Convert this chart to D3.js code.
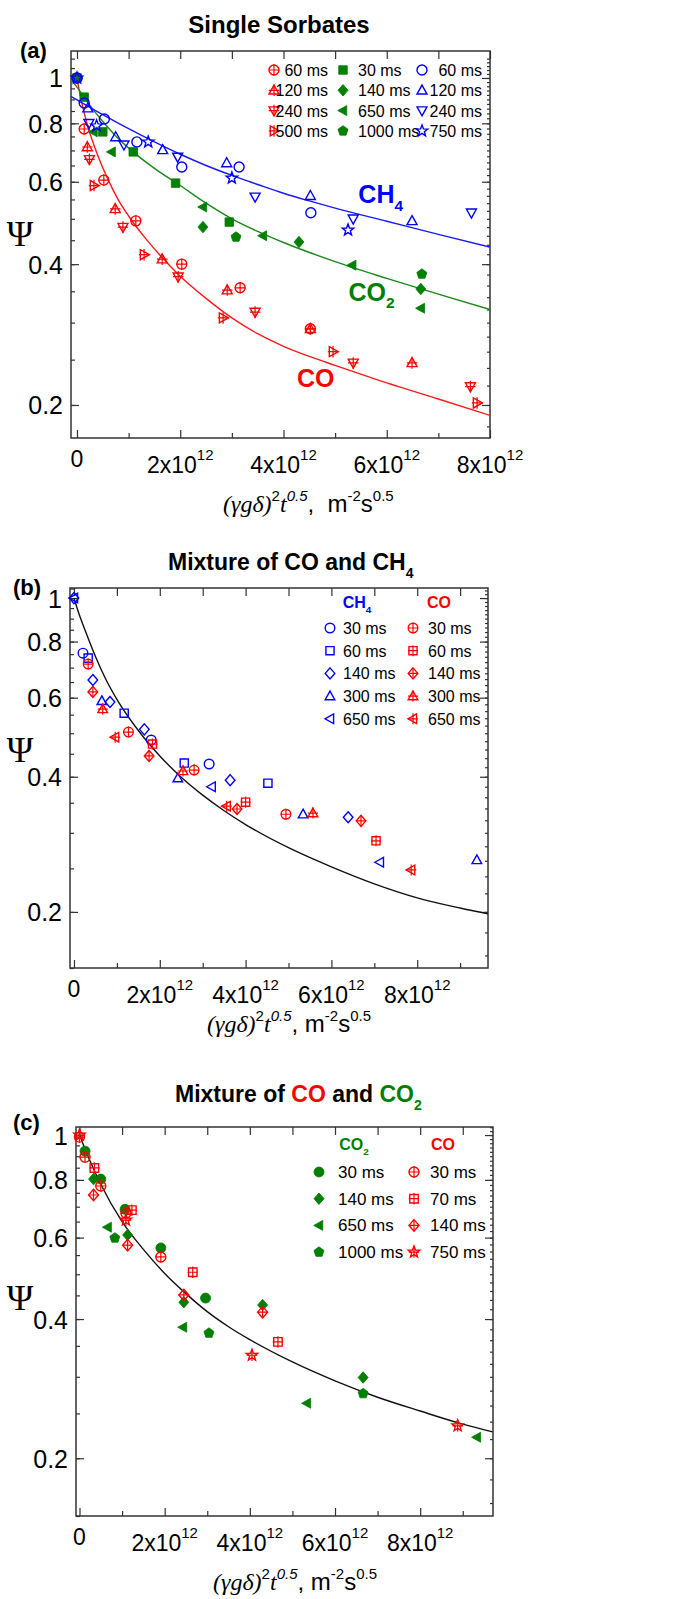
<!DOCTYPE html>
<html>
<head>
<meta charset="utf-8">
<script src="https://cdnjs.cloudflare.com/ajax/libs/d3/7.8.5/d3.min.js"></script>
<style>
    body { margin: 0; background: #fff; }
    svg text { font-family: "Liberation Sans Narrow", "Arial Narrow", "Liberation Sans", Arial, sans-serif; fill: #000; }
</style>
</head>
<body>
<svg id="chart" width="676" height="1599"></svg>
<script>
// x values are in units of 1e12 m^-2 s^0.5, y values are Psi

// ---- panel (a) single sorbates ----
const aCO60X = [0, 0.14, 0.52, 1.14, 2.03, 3.16, 4.52];
const aCO60Y = [1.0, 0.778, 0.605, 0.495, 0.40, 0.356, 0.291];
const aCO120X = [0.2, 0.74, 1.65, 2.91, 4.52, 6.49];
const aCO120Y = [0.712, 0.525, 0.41, 0.352, 0.291, 0.246];
const aCO240X = [0.24, 0.89, 1.96, 3.45, 5.35, 7.62];
const aCO240Y = [0.67, 0.48, 0.376, 0.316, 0.246, 0.219];
const aCO500X = [0.33, 1.30, 2.83, 4.96, 7.75];
const aCO500Y = [0.589, 0.419, 0.307, 0.26, 0.202];

const aCO2_30X = [0, 0.14, 0.5, 1.09, 1.91, 2.95];
const aCO2_30Y = [1.0, 0.91, 0.767, 0.695, 0.596, 0.492];
const aCO2_140X = [2.44, 4.3, 6.66];
const aCO2_140Y = [0.48, 0.446, 0.354];
const aCO2_650X = [0.32, 0.67, 2.44, 3.6, 5.33, 6.66];
const aCO2_650Y = [0.767, 0.695, 0.53, 0.46, 0.398, 0.322];
const aCO2_1000X = [3.08, 6.68];
const aCO2_1000Y = [0.457, 0.381];

const aCH4_60X = [0, 0.14, 0.53, 1.16, 2.03, 3.14, 4.53];
const aCH4_60Y = [1.0, 0.884, 0.817, 0.73, 0.645, 0.645, 0.515];
const aCH4_120X = [0.21, 0.75, 1.66, 2.9, 4.52, 6.49];
const aCH4_120Y = [0.862, 0.748, 0.702, 0.658, 0.56, 0.495];
const aCH4_240X = [0.23, 0.91, 1.95, 3.45, 5.35, 7.64];
const aCH4_240Y = [0.80, 0.72, 0.678, 0.557, 0.50, 0.515];
const aCH4_750X = [0, 0.38, 1.38, 3.0, 5.25];
const aCH4_750Y = [1.0, 0.79, 0.73, 0.611, 0.473];

// fitted curves
const aFitCOX = [0, 0.05, 0.1, 0.2, 0.3, 0.4, 0.6, 0.8, 1.0, 1.3, 1.6, 2.0, 2.5, 3.0, 3.5, 4.0, 4.5, 5.0, 6.0, 7.0, 8.0];
const aFitCOY = [1.0, 0.932, 0.878, 0.795, 0.733, 0.684, 0.607, 0.549, 0.507, 0.458, 0.419, 0.377, 0.338, 0.307, 0.284, 0.267, 0.254, 0.243, 0.223, 0.206, 0.190];
const aFitCO2X = [-0.12, 0, 0.25, 0.5, 0.75, 1.0, 1.5, 2.0, 2.5, 3.0, 3.5, 4.0, 5.0, 6.0, 7.0, 8.0];
const aFitCO2Y = [0.995, 0.956, 0.874, 0.807, 0.752, 0.708, 0.641, 0.589, 0.54, 0.50, 0.47, 0.445, 0.405, 0.373, 0.345, 0.32];
const aFitCH4X = [-0.12, 0, 0.5, 1.0, 1.5, 2.0, 2.5, 3.0, 3.5, 4.0, 4.5, 5.0, 6.0, 7.0, 8.0];
const aFitCH4Y = [0.914, 0.898, 0.835, 0.779, 0.730, 0.687, 0.650, 0.619, 0.592, 0.567, 0.546, 0.527, 0.494, 0.463, 0.435];

// ---- panel (b) mixture CO + CH4 ----
const bCH4_30X = [0.21, 1.8, 3.15];
const bCH4_30Y = [0.754, 0.483, 0.427];
const bCH4_60X = [0.33, 1.17, 2.57, 4.52];
const bCH4_60Y = [0.735, 0.554, 0.429, 0.387];
const bCH4_140X = [0, 0.44, 0.84, 1.64, 3.64, 6.39];
const bCH4_140Y = [1.0, 0.657, 0.587, 0.51, 0.393, 0.325];
const bCH4_300X = [0.65, 2.42, 5.34, 9.39];
const bCH4_300Y = [0.59, 0.397, 0.33, 0.261];
const bCH4_650X = [0, 3.21, 7.13];
const bCH4_650Y = [1.0, 0.38, 0.258];

const bCO30X = [0.33, 1.27, 2.8, 4.94];
const bCO30Y = [0.713, 0.503, 0.414, 0.33];
const bCO60X = [1.83, 4.0, 7.04];
const bCO60Y = [0.473, 0.351, 0.288];
const bCO140X = [0.44, 1.75, 3.8, 6.69];
const bCO140Y = [0.618, 0.445, 0.339, 0.319];
const bCO300X = [0.67, 2.54, 5.57];
const bCO300Y = [0.566, 0.412, 0.332];
const bCO650X = [0.96, 3.56, 7.86];
const bCO650Y = [0.49, 0.344, 0.248];

const bFitX = [0, 0.1, 0.25, 0.5, 0.75, 1.0, 1.5, 2.0, 2.5, 3.0, 3.5, 4.0, 5.0, 6.0, 7.0, 8.0, 9.0, 9.65];
const bFitY = [1.0, 0.932, 0.852, 0.741, 0.657, 0.595, 0.507, 0.445, 0.399, 0.364, 0.336, 0.313, 0.278, 0.252, 0.231, 0.215, 0.204, 0.198];

// ---- panel (c) mixture CO + CO2 ----
const cCO2_30X = [0.13, 0.5, 1.07, 1.91, 2.96];
const cCO2_30Y = [0.923, 0.803, 0.691, 0.57, 0.444];
const cCO2_140X = [0.33, 1.13, 2.45, 4.3, 6.66];
const cCO2_140Y = [0.803, 0.608, 0.435, 0.429, 0.299];
const cCO2_650X = [0.66, 2.43, 5.34, 9.33];
const cCO2_650Y = [0.632, 0.384, 0.263, 0.222];
const cCO2_1000X = [0.83, 3.04, 6.66];
const cCO2_1000Y = [0.599, 0.373, 0.276];

const cCO30X = [0, 0.13, 0.5, 1.09, 1.91];
const cCO30Y = [0.99, 0.896, 0.776, 0.678, 0.545];
const cCO70X = [0.35, 1.23, 2.66, 4.66];
const cCO70Y = [0.849, 0.688, 0.505, 0.357];
const cCO140X = [0.33, 1.13, 2.45, 4.3];
const cCO140Y = [0.742, 0.578, 0.451, 0.414];
const cCO750X = [0, 1.09, 4.05, 8.88];
const cCO750Y = [1.0, 0.655, 0.334, 0.235];

const cFitX = [0, 0.25, 0.5, 1.0, 1.5, 2.0, 2.5, 3.0, 3.5, 4.0, 5.0, 6.0, 7.0, 8.0, 9.0, 9.7];
const cFitY = [1.0, 0.878, 0.783, 0.65, 0.566, 0.502, 0.454, 0.415, 0.385, 0.361, 0.323, 0.294, 0.271, 0.253, 0.237, 0.228];

// tick values
const xMajorTicks = [0, 2, 4, 6, 8];
const xMinorTicks = [1, 3, 5, 7, 9];
const yMajorTicks = [0.2, 0.4, 0.6, 0.8, 1];

const RED = '#ff0000', GREEN = '#007f00', BLUE = '#0000ff';

const svg = d3.select('#chart');

// marker outlines
function shapePath(shape, r) {
    const p = d3.path();
    const poly = function (pts) {
        p.moveTo(pts[0][0], pts[0][1]);
        pts.slice(1).forEach(function (q) { p.lineTo(q[0], q[1]); });
        p.closePath();
    };
    if (shape === 'circle') p.arc(0, 0, r, 0, 2 * Math.PI);
    else if (shape === 'square') { const s = r * 0.85; p.rect(-s, -s, 2 * s, 2 * s); }
    else if (shape === 'diamond') poly([[0, -r * 1.15], [r, 0], [0, r * 1.15], [-r, 0]]);
    else if (shape === 'up') poly([[0, -r * 1.05], [r, r * 0.75], [-r, r * 0.75]]);
    else if (shape === 'down') poly([[0, r * 1.05], [r, -r * 0.75], [-r, -r * 0.75]]);
    else if (shape === 'left') poly([[-r * 1.05, 0], [r * 0.75, -r], [r * 0.75, r]]);
    else if (shape === 'right') poly([[r * 1.05, 0], [-r * 0.75, -r], [-r * 0.75, r]]);
    else if (shape === 'pentagon') poly(d3.range(5).map(function (i) {
        const a = -Math.PI / 2 + i * 2 * Math.PI / 5;
        return [r * 1.05 * Math.cos(a), r * 1.05 * Math.sin(a)];
    }));
    else if (shape === 'star') poly(d3.range(10).map(function (i) {
        const a = -Math.PI / 2 + i * Math.PI / 5;
        const rr = i % 2 ? r * 0.5 : r * 1.2;
        return [rr * Math.cos(a), rr * Math.sin(a)];
    }));
    return p.toString();
}

function markerGroup(parent, s, r) {
    parent.append('path')
        .attr('d', shapePath(s.shape, r))
        .attr('fill', s.filled ? s.color : 'none')
        .attr('stroke', s.color)
        .attr('stroke-width', s.filled ? 0.8 : 1.4);
    if (s.plus) {
        parent.append('path')
            .attr('d', `M${-r * 1.05},0H${r * 1.05}M0,${-r * 1.15}V${r * 1.15}`)
            .attr('stroke', s.color)
            .attr('stroke-width', 1.2);
    }
}

function drawPanel(cfg) {
    const g = svg.append('g');
    const x = d3.scaleLinear().domain(cfg.xDomain).range([cfg.left, cfg.right]);
    const y = d3.scaleLog().domain(cfg.yDomain).range([cfg.bottom, cfg.top]);

    // minor y ticks, every 0.05 on the left and 0.02 on the right
    const yMinorL = d3.range(3, 23).map(function (i) { return i * 0.05; })
        .filter(function (v) { return v > cfg.yDomain[0] && v < cfg.yDomain[1]; });
    const yMinorR = d3.range(8, 56).map(function (i) { return i * 0.02; })
        .filter(function (v) { return v > cfg.yDomain[0] && v < cfg.yDomain[1]; });
    const xMaj = xMajorTicks.filter(function (v) { return v >= cfg.xDomain[0] && v <= cfg.xDomain[1] + 1e-6; });
    const xMin = xMinorTicks.filter(function (v) { return v <= cfg.xDomain[1]; });

    const axes = g.append('g').attr('class', 'axes');
    const addAxis = function (axis, tx, ty) {
        const a = axes.append('g').attr('transform', `translate(${tx},${ty})`).call(axis);
        a.select('.domain').remove();
        a.selectAll('line').attr('stroke', '#333').attr('stroke-width', 1.2);
        return a;
    };
    addAxis(d3.axisBottom(x).tickValues(xMaj).tickSize(-8).tickFormat(''), 0, cfg.bottom);
    addAxis(d3.axisBottom(x).tickValues(xMin).tickSize(-5).tickFormat(''), 0, cfg.bottom);
    addAxis(d3.axisTop(x).tickValues(xMaj).tickSize(-8).tickFormat(''), 0, cfg.top);
    addAxis(d3.axisTop(x).tickValues(xMin).tickSize(-8).tickFormat(''), 0, cfg.top);
    addAxis(d3.axisLeft(y).tickValues(yMinorL).tickSize(-4).tickFormat(''), cfg.left, 0);
    addAxis(d3.axisRight(y).tickValues(yMinorR).tickSize(-3).tickFormat(''), cfg.right, 0);
    addAxis(d3.axisRight(y).tickValues(yMajorTicks).tickSize(-8).tickFormat(''), cfg.right, 0);
    const yl = addAxis(d3.axisLeft(y).tickValues(yMajorTicks).tickSize(-8).tickPadding(8)
        .tickFormat(d3.format('~g')), cfg.left, 0);
    yl.selectAll('text').attr('font-size', 25).attr('dy', '0.36em')
        .style('font-family', '"Liberation Sans Narrow", "Arial Narrow", "Liberation Sans", Arial, sans-serif');

    // x tick labels with powers of ten
    xMaj.forEach(function (v) {
        if (v === 0) {
            g.append('text').attr('x', x(v)).attr('y', cfg.bottom + 29)
                .attr('text-anchor', 'middle').attr('font-size', 23).text('0');
        } else {
            const t = g.append('text').attr('x', x(v)).attr('y', cfg.bottom + 35)
                .attr('text-anchor', 'middle').attr('font-size', 23);
            t.append('tspan').text(v + 'x10');
            t.append('tspan').attr('font-size', 15).attr('dy', -13).text('12');
        }
    });

    // frame
    g.append('rect')
        .attr('x', cfg.left).attr('y', cfg.top)
        .attr('width', cfg.right - cfg.left).attr('height', cfg.bottom - cfg.top)
        .attr('fill', 'none').attr('stroke', '#333').attr('stroke-width', 1.5);

    // fitted curves, clipped to the frame
    const clipId = 'clip' + cfg.name;
    g.append('clipPath').attr('id', clipId).append('rect')
        .attr('x', cfg.left).attr('y', cfg.top)
        .attr('width', cfg.right - cfg.left).attr('height', cfg.bottom - cfg.top);
    const line = d3.line()
        .x(function (d) { return x(d[0]); })
        .y(function (d) { return y(d[1]); })
        .curve(d3.curveMonotoneX);
    cfg.curves.forEach(function (c) {
        g.append('path')
            .attr('clip-path', `url(#${clipId})`)
            .attr('d', line(d3.zip(c.xs, c.ys)))
            .attr('fill', 'none')
            .attr('stroke', c.color)
            .attr('stroke-width', 1.4);
    });

    // data points
    cfg.series.forEach(function (s) {
        g.append('g').selectAll('g')
            .data(d3.zip(s.xs, s.ys))
            .join('g')
            .attr('transform', function (d) { return `translate(${x(d[0])},${y(d[1])})`; })
            .each(function () { markerGroup(d3.select(this), s, cfg.r); });
    });

    // legend
    cfg.legend.forEach(function (col) {
        col.items.forEach(function (s, i) {
            const cy = col.y0 + i * col.dy;
            markerGroup(g.append('g').attr('transform', `translate(${col.mx},${cy})`), s, cfg.r);
            g.append('text')
                .attr('x', col.tx).attr('y', cy + 6)
                .attr('text-anchor', col.anchor)
                .attr('font-size', col.fs)
                .text(s.label);
        });
    });

    // axis titles
    g.append('text')
        .attr('x', 20).attr('y', cfg.psiY)
        .attr('text-anchor', 'middle')
        .attr('font-size', 36)
        .style('font-family', '"Liberation Serif", "Times New Roman", serif')
        .text('\u03A8');

    const xt = g.append('text').attr('x', cfg.xtX).attr('y', cfg.xtY).attr('font-size', 24)
        .style('white-space', 'pre');
    const serif = '"Liberation Serif", "Times New Roman", serif';
    xt.append('tspan').style('font-family', serif).attr('font-style', 'italic').text('(\u03B3g\u03B4)');
    xt.append('tspan').attr('font-size', 15).attr('dy', -11).text('2');
    xt.append('tspan').style('font-family', serif).attr('font-style', 'italic').attr('dy', 11).text('t');
    xt.append('tspan').attr('font-size', 15).attr('font-style', 'italic').attr('dy', -11).text('0.5');
    xt.append('tspan').attr('dy', 11).text(cfg.comma + 'm');
    xt.append('tspan').attr('font-size', 15).attr('dy', -11).text('-2');
    xt.append('tspan').attr('dy', 11).text('s');
    xt.append('tspan').attr('font-size', 15).attr('dy', -11).text('0.5');

    return {g: g, x: x, y: y};
}

function subText(g, x, y, size, color, main, sub, anchor) {
    const t = g.append('text').attr('x', x).attr('y', y).attr('font-size', size)
        .attr('font-weight', 'bold').attr('text-anchor', anchor || 'start');
    t.append('tspan').style('fill', color).text(main);
    if (sub) t.append('tspan').style('fill', color).attr('font-size', size * 0.62).attr('dy', size * 0.3).text(sub);
    return t;
}

// ---------------- panel (a) ----------------
const sA = {
    co60: {xs: aCO60X, ys: aCO60Y, shape: 'circle', color: RED, plus: true, label: '60 ms'},
    co120: {xs: aCO120X, ys: aCO120Y, shape: 'up', color: RED, plus: true, label: '120 ms'},
    co240: {xs: aCO240X, ys: aCO240Y, shape: 'down', color: RED, plus: true, label: '240 ms'},
    co500: {xs: aCO500X, ys: aCO500Y, shape: 'right', color: RED, plus: true, label: '500 ms'},
    co2_30: {xs: aCO2_30X, ys: aCO2_30Y, shape: 'square', color: GREEN, filled: true, label: '30 ms'},
    co2_140: {xs: aCO2_140X, ys: aCO2_140Y, shape: 'diamond', color: GREEN, filled: true, label: '140 ms'},
    co2_650: {xs: aCO2_650X, ys: aCO2_650Y, shape: 'left', color: GREEN, filled: true, label: '650 ms'},
    co2_1000: {xs: aCO2_1000X, ys: aCO2_1000Y, shape: 'pentagon', color: GREEN, filled: true, label: '1000 ms'},
    ch4_60: {xs: aCH4_60X, ys: aCH4_60Y, shape: 'circle', color: BLUE, label: '60 ms'},
    ch4_120: {xs: aCH4_120X, ys: aCH4_120Y, shape: 'up', color: BLUE, label: '120 ms'},
    ch4_240: {xs: aCH4_240X, ys: aCH4_240Y, shape: 'down', color: BLUE, label: '240 ms'},
    ch4_750: {xs: aCH4_750X, ys: aCH4_750Y, shape: 'star', color: BLUE, label: '750 ms'}
};
const pa = drawPanel({
    name: 'a', left: 71, right: 490, top: 51, bottom: 438,
    xDomain: [-0.116, 8], yDomain: [0.17, 1.142], r: 5,
    series: Object.values(sA),
    curves: [
        {xs: aFitCOX, ys: aFitCOY, color: '#ff1a1a'},
        {xs: aFitCO2X, ys: aFitCO2Y, color: '#1a8a1a'},
        {xs: aFitCH4X, ys: aFitCH4Y, color: '#1a1aff'}
    ],
    legend: [
        {mx: 274, tx: 328, anchor: 'end', y0: 70, dy: 20.3, fs: 16, items: [sA.co60, sA.co120, sA.co240, sA.co500]},
        {mx: 343, tx: 358, anchor: 'start', y0: 70, dy: 20.3, fs: 16, items: [sA.co2_30, sA.co2_140, sA.co2_650, sA.co2_1000]},
        {mx: 422, tx: 482, anchor: 'end', y0: 70, dy: 20.3, fs: 16, items: [sA.ch4_60, sA.ch4_120, sA.ch4_240, sA.ch4_750]}
    ],
    psiY: 246, xtX: 223, xtY: 512, comma: ',\u00A0\u00A0'
});
pa.g.append('text').attr('x', 279).attr('y', 33).attr('text-anchor', 'middle')
    .attr('font-size', 24).attr('font-weight', 'bold').text('Single Sorbates');
pa.g.append('text').attr('x', 20).attr('y', 58).attr('font-size', 22).attr('font-weight', 'bold').text('(a)');
subText(pa.g, pa.x(5.45), pa.y(0.54), 25, BLUE, 'CH', '4');
subText(pa.g, pa.x(5.26), pa.y(0.334), 25, GREEN, 'CO', '2');
subText(pa.g, pa.x(4.26), pa.y(0.218), 25, RED, 'CO');

// ---------------- panel (b) ----------------
const sB = {
    ch4_30: {xs: bCH4_30X, ys: bCH4_30Y, shape: 'circle', color: BLUE, label: '30 ms'},
    ch4_60: {xs: bCH4_60X, ys: bCH4_60Y, shape: 'square', color: BLUE, label: '60 ms'},
    ch4_140: {xs: bCH4_140X, ys: bCH4_140Y, shape: 'diamond', color: BLUE, label: '140 ms'},
    ch4_300: {xs: bCH4_300X, ys: bCH4_300Y, shape: 'up', color: BLUE, label: '300 ms'},
    ch4_650: {xs: bCH4_650X, ys: bCH4_650Y, shape: 'left', color: BLUE, label: '650 ms'},
    co30: {xs: bCO30X, ys: bCO30Y, shape: 'circle', color: RED, plus: true, label: '30 ms'},
    co60: {xs: bCO60X, ys: bCO60Y, shape: 'square', color: RED, plus: true, label: '60 ms'},
    co140: {xs: bCO140X, ys: bCO140Y, shape: 'diamond', color: RED, plus: true, label: '140 ms'},
    co300: {xs: bCO300X, ys: bCO300Y, shape: 'up', color: RED, plus: true, label: '300 ms'},
    co650: {xs: bCO650X, ys: bCO650Y, shape: 'left', color: RED, plus: true, label: '650 ms'}
};
const pb = drawPanel({
    name: 'b', left: 70, right: 488, top: 588, bottom: 968,
    xDomain: [-0.093, 9.65], yDomain: [0.15, 1.053], r: 4.8,
    series: Object.values(sB),
    curves: [{xs: bFitX, ys: bFitY, color: '#111'}],
    legend: [
        {mx: 330, tx: 343, anchor: 'start', y0: 628, dy: 22.7, fs: 16, items: [sB.ch4_30, sB.ch4_60, sB.ch4_140, sB.ch4_300, sB.ch4_650]},
        {mx: 413, tx: 428, anchor: 'start', y0: 628, dy: 22.7, fs: 16, items: [sB.co30, sB.co60, sB.co140, sB.co300, sB.co650]}
    ],
    psiY: 762, xtX: 207, xtY: 1032, comma: ', '
});
const tb = pb.g.append('text').attr('x', 168).attr('y', 570).attr('font-size', 23).attr('font-weight', 'bold');
tb.append('tspan').text('Mixture of CO and CH');
tb.append('tspan').attr('font-size', 14).attr('dy', 8).text('4');
pb.g.append('text').attr('x', 13).attr('y', 595).attr('font-size', 22).attr('font-weight', 'bold').text('(b)');
subText(pb.g, 357, 608, 16, BLUE, 'CH', '4', 'middle');
subText(pb.g, 439, 608, 16, RED, 'CO', null, 'middle');

// ---------------- panel (c) ----------------
const sC = {
    co2_30: {xs: cCO2_30X, ys: cCO2_30Y, shape: 'circle', color: GREEN, filled: true, label: '30 ms'},
    co2_140: {xs: cCO2_140X, ys: cCO2_140Y, shape: 'diamond', color: GREEN, filled: true, label: '140 ms'},
    co2_650: {xs: cCO2_650X, ys: cCO2_650Y, shape: 'left', color: GREEN, filled: true, label: '650 ms'},
    co2_1000: {xs: cCO2_1000X, ys: cCO2_1000Y, shape: 'pentagon', color: GREEN, filled: true, label: '1000 ms'},
    co30: {xs: cCO30X, ys: cCO30Y, shape: 'circle', color: RED, plus: true, label: '30 ms'},
    co70: {xs: cCO70X, ys: cCO70Y, shape: 'square', color: RED, plus: true, label: '70 ms'},
    co140: {xs: cCO140X, ys: cCO140Y, shape: 'diamond', color: RED, plus: true, label: '140 ms'},
    co750: {xs: cCO750X, ys: cCO750Y, shape: 'star', color: RED, plus: true, label: '750 ms'}
};
const pc = drawPanel({
    name: 'c', left: 76, right: 493, top: 1127, bottom: 1516,
    xDomain: [-0.082, 9.71], yDomain: [0.15, 1.041], r: 5,
    series: Object.values(sC),
    curves: [{xs: cFitX, ys: cFitY, color: '#111'}],
    legend: [
        {mx: 319, tx: 338, anchor: 'start', y0: 1172, dy: 26.7, fs: 17, items: [sC.co2_30, sC.co2_140, sC.co2_650, sC.co2_1000]},
        {mx: 414, tx: 430, anchor: 'start', y0: 1172, dy: 26.7, fs: 17, items: [sC.co30, sC.co70, sC.co140, sC.co750]}
    ],
    psiY: 1310, xtX: 213, xtY: 1590, comma: ', '
});
const tc = pc.g.append('text').attr('x', 175).attr('y', 1102).attr('font-size', 23).attr('font-weight', 'bold');
tc.append('tspan').text('Mixture of ');
tc.append('tspan').style('fill', RED).text('CO');
tc.append('tspan').text(' and ');
tc.append('tspan').style('fill', GREEN).text('CO');
tc.append('tspan').style('fill', GREEN).attr('font-size', 14).attr('dy', 8).text('2');
pc.g.append('text').attr('x', 13).attr('y', 1130).attr('font-size', 22).attr('font-weight', 'bold').text('(c)');
subText(pc.g, 354, 1150, 16, GREEN, 'CO', '2', 'middle');
subText(pc.g, 443, 1150, 16, RED, 'CO', null, 'middle');
</script>
</body>
</html>
